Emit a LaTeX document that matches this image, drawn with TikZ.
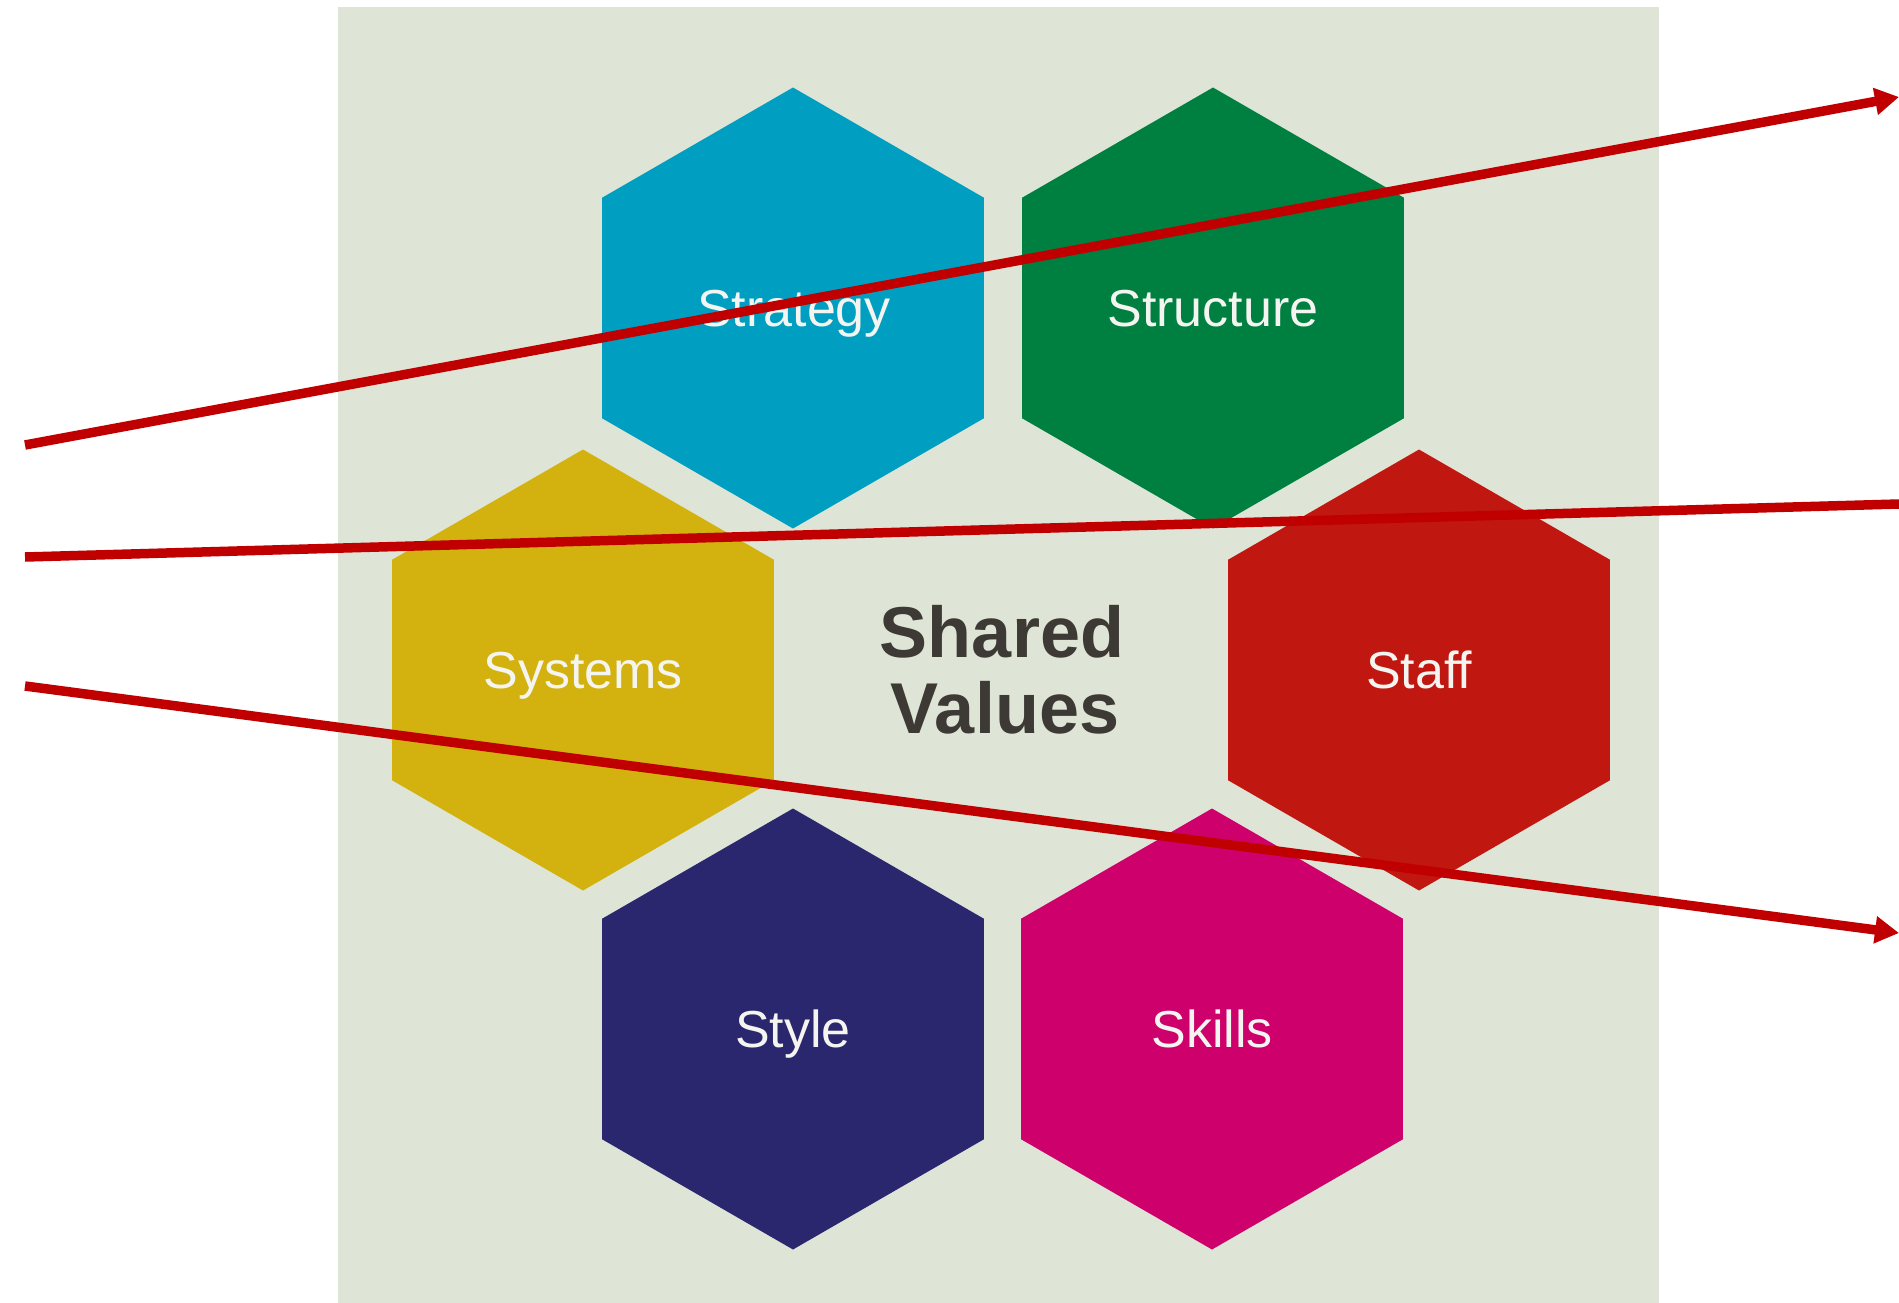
\documentclass[tikz,border=0pt]{standalone}
\usepackage{fontspec}
\setmainfont{Liberation Sans}
\usetikzlibrary{shapes.geometric,arrows.meta}
\definecolor{bgc}{HTML}{DFE5D6}
\definecolor{cStrategy}{HTML}{009FC2}
\definecolor{cStructure}{HTML}{008040}
\definecolor{cSystems}{HTML}{D3B20F}
\definecolor{cStaff}{HTML}{C01711}
\definecolor{cStyle}{HTML}{2B276E}
\definecolor{cSkills}{HTML}{CE006C}
\definecolor{svtext}{HTML}{3D3935}
\definecolor{arrowred}{HTML}{C00000}
\definecolor{labtext}{HTML}{F4F4F0}
\begin{document}
\begin{tikzpicture}[x=1pt,y=-1pt,
  hexa/.style={regular polygon, regular polygon sides=6, shape border rotate=30,
    minimum size=441pt, inner sep=0pt, draw=none},
  hexlabel/.style={anchor=base, text=labtext, inner sep=0pt,
    font=\fontsize{52}{60}\selectfont},
  svlabel/.style={anchor=base, text=svtext, inner sep=0pt,
    font=\fontsize{72}{76}\selectfont\bfseries},
  redline/.style={draw=arrowred, line width=9.5pt},
  redarrow/.style={redline, -{Triangle[length=24pt,width=26pt]}}]
\useasboundingbox (0,0) rectangle (1899,1303);
\fill[white] (0,0) rectangle (1899,1303);
\node[fill=bgc, draw=none, inner sep=0pt, minimum width=1321pt, minimum height=1296pt, anchor=north west] (bg) at (338,7) {};
% hexagons
\node[hexa, fill=cStrategy]  (strategy)  at (793,308)  {};
\node[hexa, fill=cStructure] (structure) at (1213,308) {};
\node[hexa, fill=cSystems]   (systems)   at (583,670)  {};
\node[hexa, fill=cStaff]     (staff)     at (1419,670) {};
\node[hexa, fill=cStyle]     (style)     at (793,1029) {};
\node[hexa, fill=cSkills]    (skills)    at (1212,1029) {};
% labels
\node[hexlabel] (lstrategy)  at (794,326)  {Strategy};
\node[hexlabel] (lstructure) at (1213,326) {Structure};
\node[hexlabel] (lsystems)   at (583,688)  {Systems};
\node[hexlabel] (lstaff)     at (1419,688) {Staff};
\node[hexlabel] (lstyle)     at (793,1047) {Style};
\node[hexlabel] (lskills)    at (1212,1047) {Skills};
\node[svlabel] (sv1) at (1002,657) {Shared};
\node[svlabel] (sv2) at (1005,733) {Values};
% red lines
\coordinate (a1s) at (25,445);
\coordinate (a1e) at (1899,97);
\coordinate (a2s) at (25,557);
\coordinate (a2e) at (1899,504);
\coordinate (a3s) at (25,686);
\coordinate (a3e) at (1899,933);
\draw[redarrow] (a1s) -- (a1e);
\draw[redline] (a2s) -- (a2e);
\draw[redarrow] (a3s) -- (a3e);
\end{tikzpicture}
\end{document}
